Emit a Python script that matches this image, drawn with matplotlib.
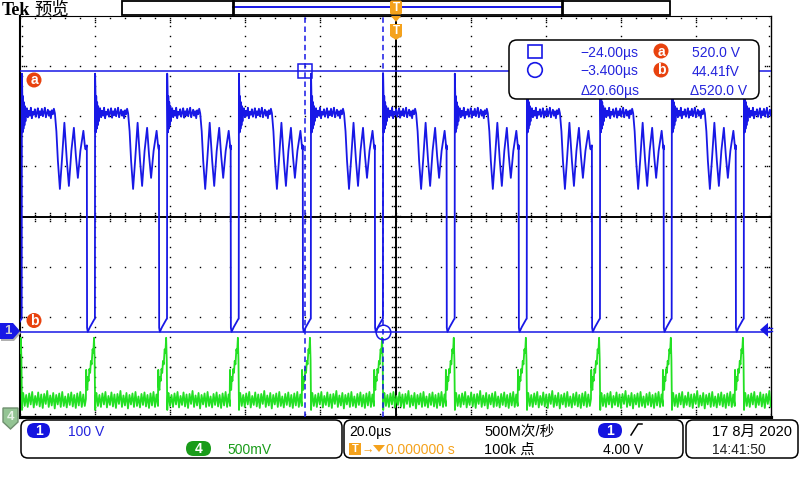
import numpy as np
import matplotlib
matplotlib.use("Agg")
import matplotlib.pyplot as plt
from matplotlib.patches import FancyBboxPatch, Polygon, Rectangle, Circle

time_per_div_us = 20.0
ch1_volts_per_div = 100.0
ch4_mv_per_div = 500.0
ch1_position_div = -2.3
ch4_position_div = -4.1
trigger_level_v = 4.00

# rising edges of the ch1 switching waveform (µs)
ch1_rise_times_us = [-99.5, -80.0, -60.8, -41.7, -22.5, -3.3, 15.8, 35.0, 54.5, 73.6, 92.8]

# one ch1 cycle, time relative to its rising edge (µs) and volts
ch1_low_t_us = [-2.20, -2.14, -1.95, -1.70, -1.40, -1.10, -0.80, -0.50, -0.20, -0.05]
ch1_low_v = [372, 8, 0, 4, 9, 13, 17, 21, 25, 26]
ch1_ring_t_us = [0.00, 0.10, 0.20, 0.30, 0.42, 0.55, 0.68, 0.82, 0.95, 1.10]
ch1_ring_v = [515, 478, 398, 470, 405, 458, 412, 450, 420, 444]
ch1_plateau_v = [446, 428, 441, 431, 447, 426, 439, 433, 444, 429, 437, 446, 427, 440,
                 432, 445, 430, 438, 447, 428, 436, 443, 431, 440, 426, 442, 434, 445]
ch1_plateau_span_us = (1.33, 8.52)
ch1_osc_t_us = [8.79, 9.19, 9.59, 10.12, 10.65, 11.32, 11.98, 12.52, 13.18, 13.85,
                14.38, 14.91, 15.58, 16.38, 16.78, 16.95]
ch1_osc_v = [436, 400, 341, 285, 341, 417, 341, 291, 361, 407, 351, 307, 361, 401, 370, 364]

# one ch4 cycle (mV), time relative to the ch1 rising edge
ch4_spike_t_us = [-2.45, -2.38, -2.25, -2.05, -1.92, -1.72, -1.52, -1.32, -1.12, -0.92,
                  -0.68, -0.48, -0.28, -0.12, 0.02, 0.18]
ch4_spike_mv = [230, 520, 345, 320, 450, 410, 530, 490, 610, 575, 725, 690, 840, 620, 120, 270]
ch4_base_mv = [290, 160, 270, 150, 285, 175, 300, 145, 260, 170, 295, 155, 275, 140,
               280, 180, 310, 150, 265, 165, 290, 135, 270, 175, 285, 150, 300, 160,
               255, 145, 280, 170, 295, 155, 270, 140, 285, 165, 300, 150, 275, 160]
ch4_base_span_us = (0.35, 16.75)

# cursors
cursor_t_us = [-24.00, -3.400]
cursor_ch1_v = [520.0, 44.41e-15]

# status texts
ch1_scale_txt = "100 V"
ch4_scale_txt = "500mV"
timebase_txt = "20.0µs"
trig_pos_txt = "0.000000 s"
sample_rate_txt = "500M次/秒"
record_len_txt = "100k 点"
trig_level_txt = "4.00 V"
date_txt = "17 8月 2020"
time_txt = "14:41:50"

# ---------------- styling ----------------
BLUE = "#1818e6"
TXTBLUE = "#2424dc"
GREEN = "#22e022"
PILLGREEN = "#1a9c1a"
ORANGE = "#f5a21c"
REDOR = "#e8420e"
FONT = ["Liberation Sans", "DejaVu Sans"]
CJK = ["Liberation Sans", "Noto Sans CJK SC", "DejaVu Sans"]

fig = plt.figure(figsize=(8, 4.8), dpi=100)
fig.patch.set_facecolor("white")

L, R, T, B = 20, 771, 16, 417
ax = fig.add_axes([L / 800, (480 - B) / 480, (R - L) / 800, (B - T) / 480])
xmax = 5 * time_per_div_us
ax.set_xlim(-xmax, xmax)
ax.set_ylim(-4, 4)
ax.set_xticks([]); ax.set_yticks([])
for side, lw in (("left", 1.5), ("right", 1.0), ("top", 0.8), ("bottom", 2.3)):
    ax.spines[side].set_linewidth(lw)
    ax.spines[side].set_color("black")

pxx = 2 * xmax / (R - L)
pxy = 8.0 / (B - T)

# ---- graticule ----
minor_x = np.arange(-xmax, xmax + 1e-9, time_per_div_us / 5)
minor_y = np.arange(-4, 4 + 1e-9, 0.2)
major_x = [v for v in np.arange(-xmax + time_per_div_us, xmax, time_per_div_us) if abs(v) > 1e-9]
major_y = [-3, -2, -1, 1, 2, 3]
dot = dict(ls="none", marker="s", ms=1.0, mew=0, color="black", zorder=1)
for yy in major_y:
    ax.plot(minor_x[1:-1], np.full(len(minor_x) - 2, yy), **dot)
for xx in major_x:
    ax.plot(np.full(len(minor_y) - 2, xx), minor_y[1:-1], **dot)
# border ticks
for k in (2, 4):
    ax.plot(minor_x, np.full(len(minor_x), 4 - k * pxy), **dot) if k == 2 else None
    ax.plot(minor_x, np.full(len(minor_x), -4 + (k + 1) * pxy), **dot) if k == 2 else None
    ax.plot(np.full(len(minor_y), -xmax + k * pxx), minor_y, **dot) if k == 2 else None
    ax.plot(np.full(len(minor_y), xmax - k * pxx), minor_y, **dot) if k == 2 else None
for k in (4, 6):
    ax.plot(major_x, np.full(len(major_x), 4 - k * pxy), **dot)
    ax.plot(major_x, np.full(len(major_x), -4 + (k + 1) * pxy), **dot)
    ax.plot(np.full(len(major_y), -xmax + k * pxx), major_y, **dot)
    ax.plot(np.full(len(major_y), xmax - k * pxx), major_y, **dot)
# center cross
ax.axhline(0, color="black", lw=1.4, zorder=1.5)
ax.axvline(0, color="black", lw=1.4, zorder=1.5)
for k in (-4, -2, 2, 4):
    ax.plot(minor_x, np.full(len(minor_x), k * pxy), **dot)
    ax.plot(np.full(len(minor_y), k * pxx), minor_y, **dot)

# ---- traces ----
def repeat_cycle(edges, t_rel, vals):
    t = np.concatenate([e + np.asarray(t_rel, float) for e in edges])
    v = np.tile(np.asarray(vals, float), len(edges))
    return t, v

ch1_t_rel = (ch1_low_t_us + ch1_ring_t_us
             + list(np.linspace(*ch1_plateau_span_us, len(ch1_plateau_v))) + ch1_osc_t_us)
ch1_v_rel = ch1_low_v + ch1_ring_v + ch1_plateau_v + ch1_osc_v
t1, v1 = repeat_cycle(ch1_rise_times_us, ch1_t_rel, ch1_v_rel)

ch4_t_rel = ch4_spike_t_us + list(np.linspace(*ch4_base_span_us, len(ch4_base_mv)))
ch4_v_rel = ch4_spike_mv + ch4_base_mv
t4, v4 = repeat_cycle(ch1_rise_times_us, ch4_t_rel, ch4_v_rel)

ax.plot(t4, ch4_position_div + v4 / ch4_mv_per_div, color=GREEN, lw=1.3, zorder=3)
ax.plot(t1, ch1_position_div + v1 / ch1_volts_per_div, color=BLUE, lw=1.3, zorder=4)

# ---- cursors ----
ya = ch1_position_div + cursor_ch1_v[0] / ch1_volts_per_div
yb = ch1_position_div + cursor_ch1_v[1] / ch1_volts_per_div
ax.axhline(ya, color=BLUE, lw=1.1, zorder=5)
ax.axhline(yb, color=BLUE, lw=1.1, zorder=5)
for tc in cursor_t_us:
    ax.axvline(tc, color=BLUE, lw=1.1, ls=(0, (3.6, 2.4)), zorder=5)
ax.plot(cursor_t_us[0], ya, marker="s", ms=10, mfc="none", mec=BLUE, mew=1.1, zorder=6, clip_on=False)
ax.plot(cursor_t_us[1], yb, marker="o", ms=10.5, mfc="none", mec=BLUE, mew=1.1, zorder=6, clip_on=False)

# ---------------- overlay (screen pixels) ----------------
ov = fig.add_axes([0, 0, 1, 1], zorder=10)
ov.set_xlim(0, 800); ov.set_ylim(480, 0)
ov.axis("off"); ov.patch.set_alpha(0)

def rbox(x0, y0, x1, y1, r=7, fc="white", ec="black", lw=1.1, z=1):
    ov.add_patch(FancyBboxPatch((x0, y0), x1 - x0, y1 - y0,
                                boxstyle=f"round,pad=0,rounding_size={r}",
                                fc=fc, ec=ec, lw=lw, zorder=z))

def badge(cx, cy, letter, r=7.5):
    ov.add_patch(Circle((cx, cy), r, fc=REDOR, ec="none", zorder=3))
    ov.text(cx, cy + 0.5, letter, color="white", fontsize=10, fontweight="bold",
            ha="center", va="center", family=FONT, zorder=4)

def pill(x0, x1, yc, label, color):
    rbox(x0, yc - 7.5, x1, yc + 7.5, r=7.5, fc=color, ec="none", z=3)
    ov.text((x0 + x1) / 2, yc + 0.5, label, color="white", fontsize=10, fontweight="bold",
            ha="center", va="center", family=FONT, zorder=4)

# title
ov.text(2, 15, "Tek", family=["Liberation Serif", "DejaVu Serif"], fontweight="bold",
        fontsize=13, va="baseline", ha="left")
ov.text(34, 15, "预览", family=["Noto Sans CJK SC"], fontsize=12.5, va="baseline", ha="left")

# record bar
ov.add_patch(Rectangle((122, 0.5), 548, 14.5, fc="white", ec="black", lw=1.3, zorder=1))
ov.plot([233, 561], [7, 7], color=BLUE, lw=1.4, zorder=2)
for xb in (232.5, 561.5):
    ov.plot([xb, xb], [0.5, 15], color="black", lw=2.0, zorder=2)

# trigger markers
ov.add_patch(FancyBboxPatch((390, 0.5), 12, 14, boxstyle="round,pad=0,rounding_size=2",
                            fc=ORANGE, ec="none", zorder=3))
ov.text(396, 8, "T", color="white", fontsize=8.5, fontweight="bold", ha="center",
        va="center", family=FONT, zorder=4)
ov.add_patch(Polygon([(391, 16), (401, 16), (396, 22)], closed=True, fc=ORANGE, ec="none", zorder=3))
ov.add_patch(Polygon([(390, 24), (402, 24), (402, 36), (396, 40), (390, 36)], closed=True,
                     fc=ORANGE, ec="none", zorder=3))
ov.text(396, 30.5, "T", color="white", fontsize=8.5, fontweight="bold", ha="center",
        va="center", family=FONT, zorder=4)

# cursor badges on the left
badge(34, 80, "a")
badge(34, 320.5, "b")

# channel 1 marker
ov.add_patch(Polygon([(1, 325), (14, 325), (21, 333), (14, 341), (1, 341)], closed=True,
                     fc="#b0b0b0", ec="none", zorder=2))
ov.add_patch(Polygon([(0, 323), (13, 323), (20, 331), (13, 339), (0, 339)], closed=True,
                     fc=BLUE, ec="none", zorder=3))
ov.text(8, 331.5, "1", color="#c8c8d8", fontsize=9.5, fontweight="bold", ha="center",
        va="center", family=FONT, zorder=4)
# channel 4 marker (off-screen indicator)
ov.add_patch(Polygon([(3, 408), (18, 408), (18, 422), (10.5, 429), (3, 422)], closed=True,
                     fc="#94c494", ec="#6f8f6f", lw=1.0, zorder=3))
ov.text(10.5, 417, "4", color="#e8f2e8", fontsize=9.5, fontweight="bold", ha="center",
        va="center", family=FONT, zorder=4)
# trigger level arrow on the right
ty = 216.5 - (ch1_position_div + trigger_level_v / ch1_volts_per_div) / pxy
ov.add_patch(Polygon([(760, ty), (768, ty - 7), (768, ty + 7)], closed=True, fc=BLUE, ec="none", zorder=3))
ov.plot([768, 772], [ty - 1.5, ty - 1.5], color=BLUE, lw=1.0, zorder=3)
ov.plot([768, 772], [ty + 1.5, ty + 1.5], color=BLUE, lw=1.0, zorder=3)

# cursor readout box
def si(v, unit):
    if abs(v) < 1e-12:
        return f"{v * 1e15:#.4g}f{unit}"
    return f"{v:#.4g}{'' if unit == 'µs' else ' '}{unit}"

def fmt_t(t):
    s = f"{abs(t):#.4g}µs"
    return ("−" if t < 0 else "") + s

rbox(509, 40, 759, 99, r=8, z=2)
ov.add_patch(Rectangle((527.5, 44.5), 14, 13.5, fc="none", ec=BLUE, lw=1.2, zorder=3))
ov.add_patch(Circle((535, 70), 7.3, fc="none", ec=BLUE, lw=1.2, zorder=3))
ov.text(638, 57, fmt_t(cursor_t_us[0]), color=TXTBLUE, fontsize=10, ha="right", va="baseline", family=FONT, zorder=4)
ov.text(638, 75.5, fmt_t(cursor_t_us[1]), color=TXTBLUE, fontsize=10, ha="right", va="baseline", family=FONT, zorder=4)
badge(661, 51, "a")
badge(661, 70, "b")
ov.text(740, 57, f"{cursor_ch1_v[0]:#.4g} V", color=TXTBLUE, fontsize=10, ha="right", va="baseline", family=FONT, zorder=4)
ov.text(740, 75.5, f"{cursor_ch1_v[1] * 1e15:#.4g}fV", color=TXTBLUE, fontsize=10, ha="right", va="baseline", family=FONT, zorder=4)
dt = cursor_t_us[1] - cursor_t_us[0]
dv = cursor_ch1_v[0] - cursor_ch1_v[1]
ov.text(640, 95, f"Δ{dt:#.4g}µs", color=TXTBLUE, fontsize=10, ha="right", va="baseline", family=FONT, zorder=4)
ov.text(747, 95, f"Δ{dv:#.4g} V", color=TXTBLUE, fontsize=10, ha="right", va="baseline", family=FONT, zorder=4)

# status bar
rbox(21, 420, 342, 458)
rbox(344, 420, 683, 458)
rbox(686, 420, 798, 458)
pill(27, 50, 430.5, "1", "#1414e0")
ov.text(68, 436, ch1_scale_txt, color=TXTBLUE, fontsize=10, ha="left", va="baseline", family=FONT)
pill(186, 211, 448.5, "4", PILLGREEN)
ov.text(227, 453.5, ch4_scale_txt, color="#1a9c1a", fontsize=10, ha="left", va="baseline", family=FONT)

ov.text(349, 436, timebase_txt, color="black", fontsize=10, ha="left", va="baseline", family=FONT)
ov.add_patch(Rectangle((349, 442.5), 12, 12, fc=ORANGE, ec="none", zorder=3))
ov.text(355, 449, "T", color="white", fontsize=8, fontweight="bold", ha="center", va="center", family=FONT, zorder=4)
ov.text(362, 453.5, "→", color=ORANGE, fontsize=9, ha="left", va="baseline", family=FONT)
ov.add_patch(Polygon([(373, 445), (385, 445), (379, 452)], closed=True, fc=ORANGE, ec="none", zorder=3))
ov.text(386, 453.5, trig_pos_txt, color=ORANGE, fontsize=10, ha="left", va="baseline", family=FONT)
ov.text(484, 436, sample_rate_txt, color="black", fontsize=10.5, ha="left", va="baseline", family=CJK)
ov.text(484, 453.5, record_len_txt, color="black", fontsize=10.5, ha="left", va="baseline", family=CJK)
pill(598, 622, 430.5, "1", "#1414e0")
ov.plot([631, 638, 642], [435, 424, 424], color="black", lw=1.1)
ov.text(603, 453.5, trig_level_txt, color="black", fontsize=10, ha="left", va="baseline", family=FONT)

ov.text(712, 436, date_txt, color="black", fontsize=10.5, ha="left", va="baseline", family=CJK)
ov.text(712, 453.5, time_txt, color="#222222", fontsize=10, ha="left", va="baseline", family=FONT)

fig.savefig("out.png", dpi=100)
